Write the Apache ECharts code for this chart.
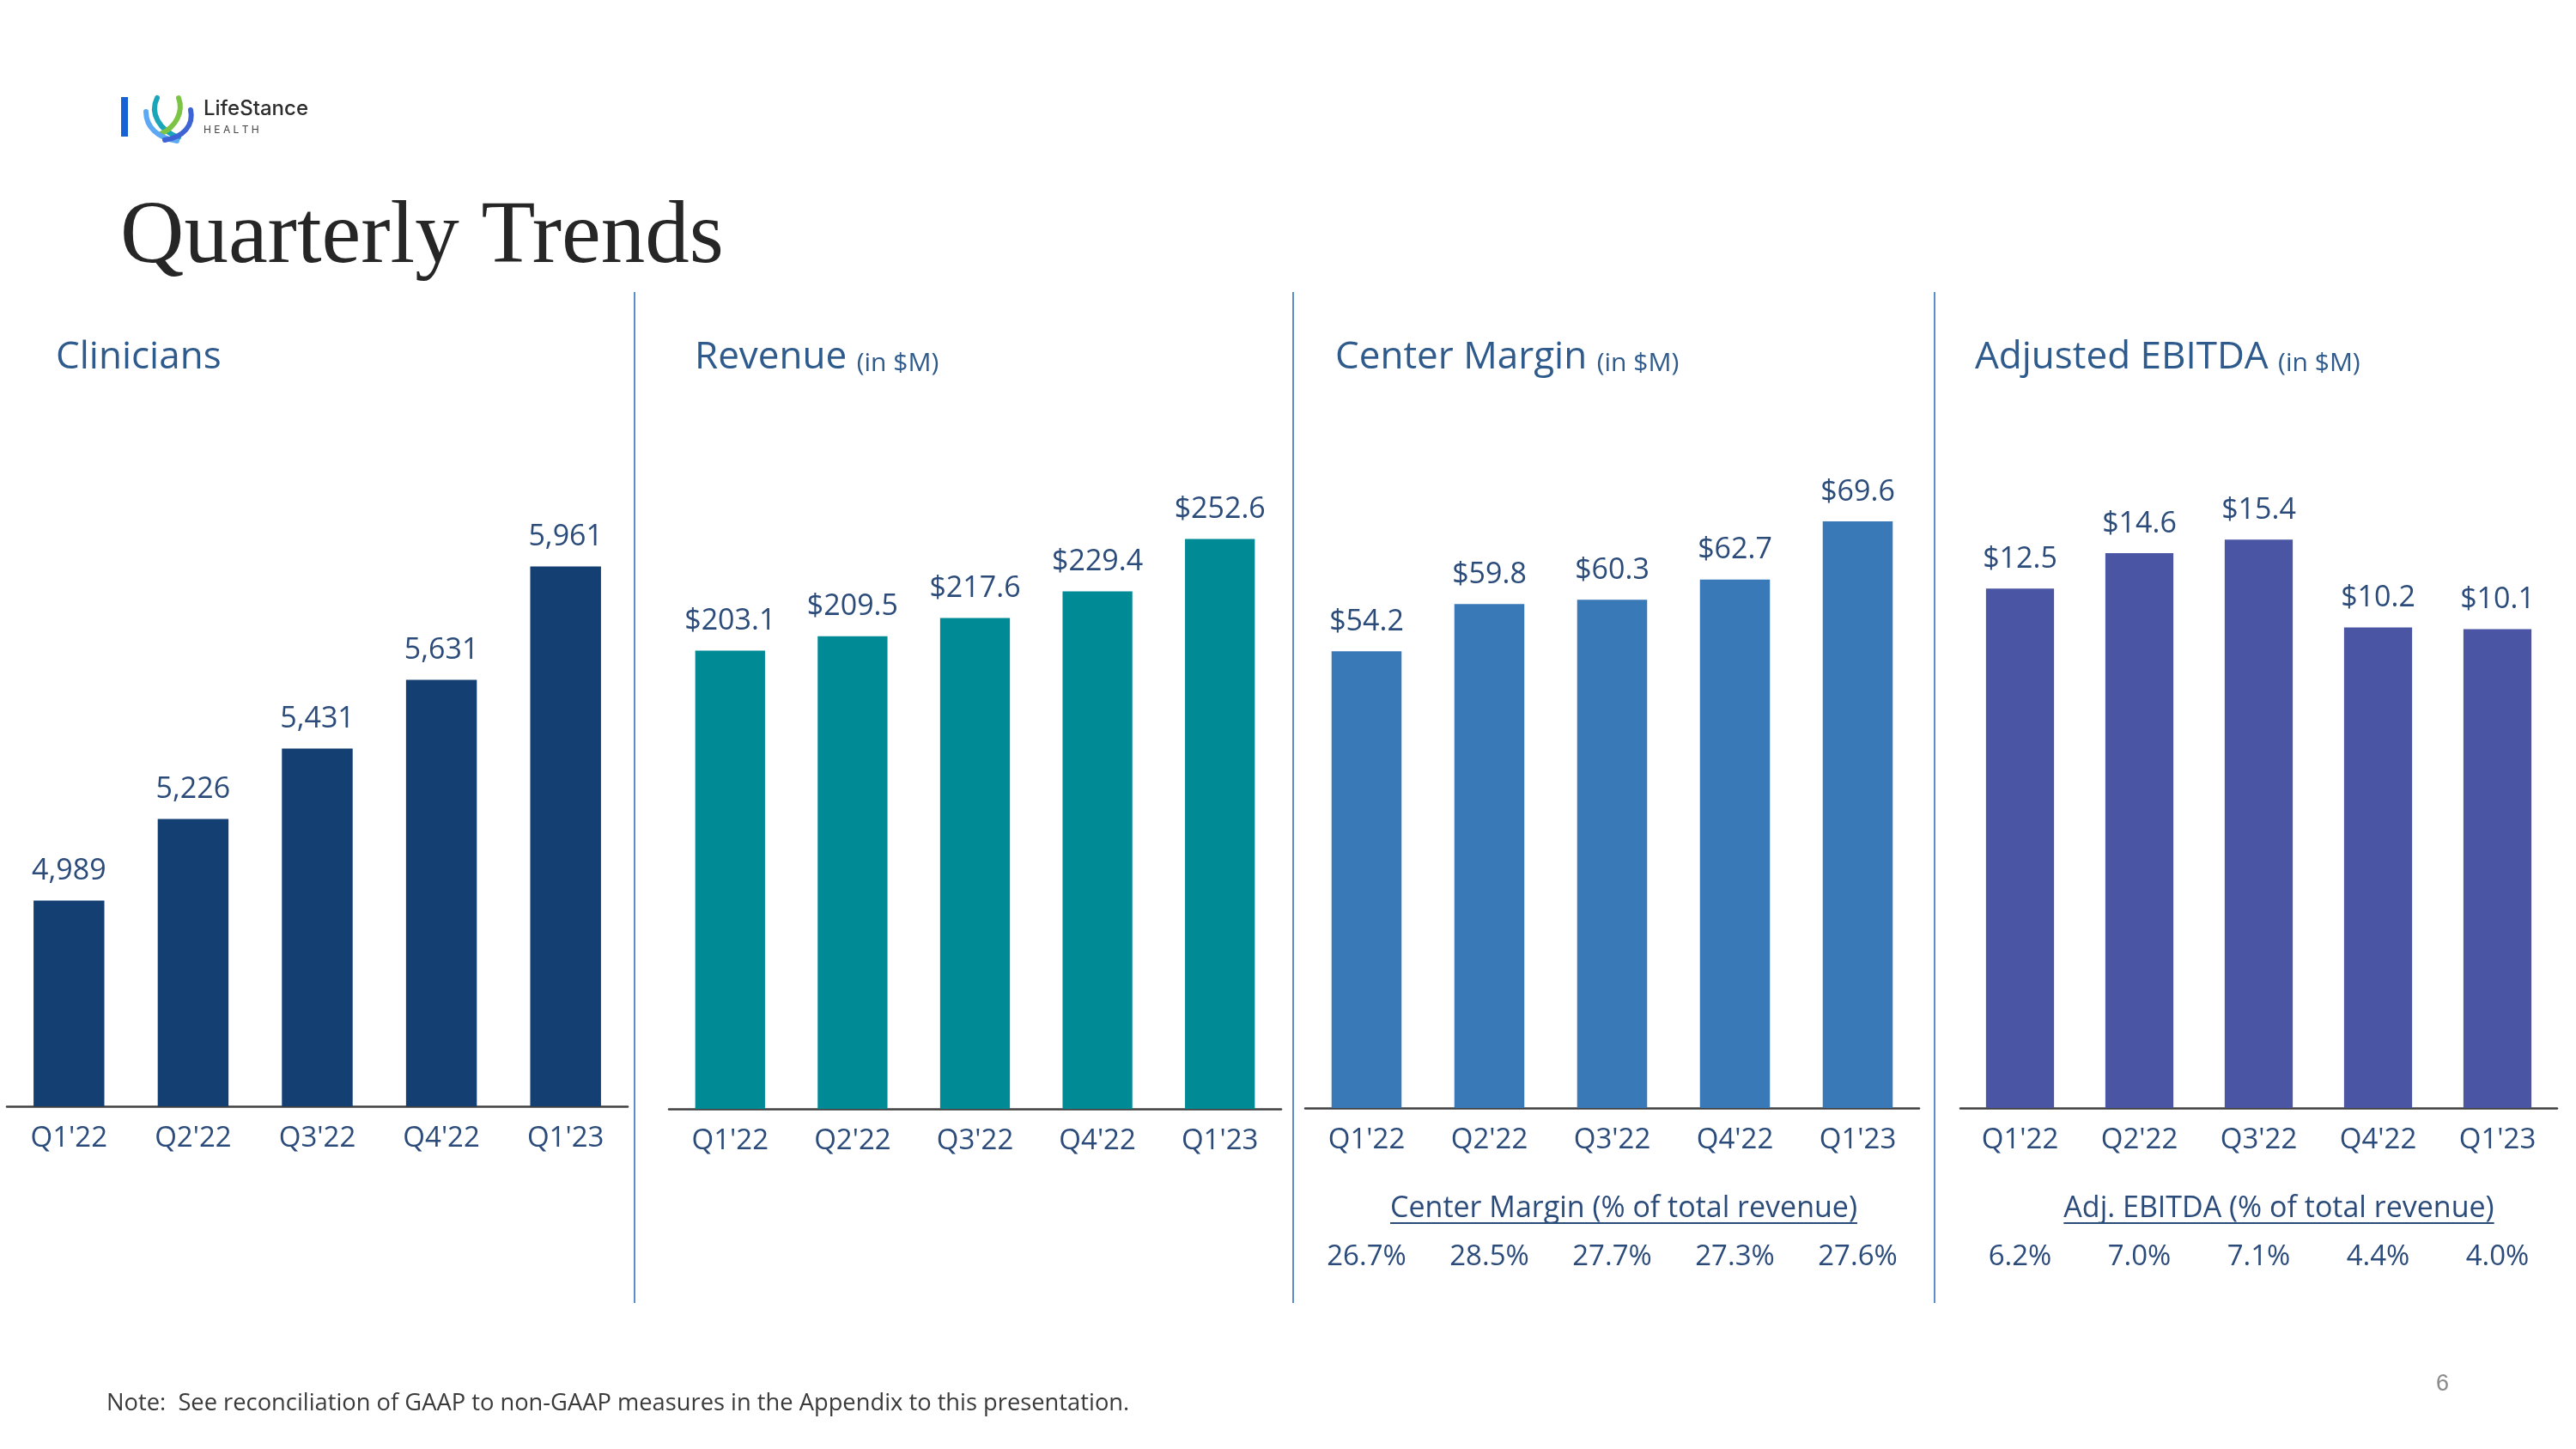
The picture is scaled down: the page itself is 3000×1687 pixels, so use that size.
<!DOCTYPE html>
<html><head><meta charset="utf-8">
<script src="https://cdn.jsdelivr.net/npm/echarts@6/dist/echarts.min.js"></script>
<style>html,body{margin:0;padding:0;background:#fff}#c{width:3000px;height:1687px}</style>
</head><body><div id="c"></div>
<script>
// ---- data ----
const quarters = ["Q1'22", "Q2'22", "Q3'22", "Q4'22", "Q1'23"];
const clinicians = [4989, 5226, 5431, 5631, 5961];
const revenue = [203.1, 209.5, 217.6, 229.4, 252.6];
const centerMargin = [54.2, 59.8, 60.3, 62.7, 69.6];
const adjEbitda = [12.5, 14.6, 15.4, 10.2, 10.1];
const centerMarginPct = [26.7, 28.5, 27.7, 27.3, 27.6];
const adjEbitdaPct = [6.2, 7.0, 7.1, 4.4, 4.0];

// ---- styling ----
const FONT = '"Open Sans", "Noto Sans", sans-serif';
const LABEL_COLOR = '#2B4B7A';
const TITLE_COLOR = '#2E5A8C';
const BAR_COLORS = ['#143F73', '#008A95', '#3A79B8', '#4A55A3'];

const chart = echarts.init(document.getElementById('c'), null, {renderer: 'canvas'});

const grids = [
  {left: 8, top: 324, width: 723, height: 964},
  {left: 779, top: 503, width: 713, height: 788},
  {left: 1520, top: 505, width: 715, height: 785},
  {left: 2283, top: 538, width: 695, height: 752}
];
const yRanges = [
  {min: 4390, max: 6800},
  {min: 0, max: 300},
  {min: 0, max: 80},
  {min: -18.3, max: 20}
];
const seriesData = [clinicians, revenue, centerMargin, adjEbitda];
const fmt = [
  v => v.toLocaleString('en-US'),
  v => '$' + v.toFixed(1),
  v => '$' + v.toFixed(1),
  v => '$' + v.toFixed(1)
];

const xAxes = grids.map((g, i) => ({
  type: 'category', gridIndex: i, data: quarters,
  axisLine: {onZero: false, lineStyle: {color: '#3F3F3F', width: 2.5}},
  axisTick: {show: false},
  axisLabel: {color: LABEL_COLOR, fontSize: 33, fontFamily: FONT, margin: 21, interval: 0}
}));
[[2, centerMarginPct], [3, adjEbitdaPct]].forEach(([gi, arr]) => {
  xAxes.push({
    type: 'category', gridIndex: gi, position: 'bottom', offset: 149,
    data: arr.map(v => v.toFixed(1) + '%'),
    axisLine: {show: false, onZero: false}, axisTick: {show: false},
    axisLabel: {color: LABEL_COLOR, fontSize: 33, fontFamily: FONT, margin: 8, interval: 0}
  });
});

const yAxes = yRanges.map((r, i) => ({
  type: 'value', gridIndex: i, min: r.min, max: r.max, startValue: r.min,
  show: false, splitLine: {show: false}
}));

const series = seriesData.map((d, i) => ({
  type: 'bar', xAxisIndex: i, yAxisIndex: i, data: d, barWidth: '57%',
  itemStyle: {color: BAR_COLORS[i]},
  label: {show: true, position: 'top', distance: 17, fontSize: 34, fontFamily: FONT,
          color: LABEL_COLOR, formatter: p => fmt[i](p.value)},
  animation: false
}));

// measure helper
const mctx = document.createElement('canvas').getContext('2d');
function textW(txt, size) { mctx.font = size + 'px "Open Sans"'; return mctx.measureText(txt).width; }

const graphic = [];
// logo
graphic.push({type: 'rect', shape: {x: 141, y: 113, width: 8, height: 46}, style: {fill: '#1762D4'}});
const logoCurves = [
  {s: [183, 114], c1: [174, 132], c2: [186, 152], e: [208, 160], col: '#1BA5B8'},
  {s: [208, 114], c1: [214, 130], c2: [205, 148], e: [187, 156], col: '#7CC544'},
  {s: [170, 130], c1: [170, 148], c2: [184, 161], e: [206, 164], col: '#5CA8F2'},
  {s: [222, 128], c1: [226, 146], c2: [213, 160], e: [192, 163], col: '#3E63D4'}
];
logoCurves.forEach(c => graphic.push({
  type: 'bezierCurve',
  shape: {x1: c.s[0], y1: c.s[1], cpx1: c.c1[0], cpy1: c.c1[1], cpx2: c.c2[0], cpy2: c.c2[1], x2: c.e[0], y2: c.e[1]},
  style: {stroke: c.col, lineWidth: 6, lineCap: 'round', fill: null}
}));
graphic.push({type: 'text', x: 237, y: 115, style: {text: 'LifeStance', font: '500 24px Inter, "Open Sans", sans-serif', fill: '#2D2D2D'}});
graphic.push({type: 'text', x: 237, y: 145, style: {text: 'H E A L T H', font: '12px Inter, "Open Sans", sans-serif', fill: '#444'}});

// title
graphic.push({type: 'text', x: 140, y: 226, style: {text: 'Quarterly Trends', font: '103px "Liberation Serif", serif', fill: '#262626'}});

// panel titles
const panelTitles = [
  {x: 65, main: 'Clinicians', sub: ''},
  {x: 809, main: 'Revenue ', sub: '(in $M)'},
  {x: 1555, main: 'Center Margin ', sub: '(in $M)'},
  {x: 2300, main: 'Adjusted EBITDA ', sub: '(in $M)'}
];
panelTitles.forEach(p => graphic.push({
  type: 'text', x: p.x, y: 394,
  style: {
    text: '{a|' + p.main + '}' + (p.sub ? '{b|' + p.sub + '}' : ''),
    rich: {
      a: {fontSize: 44, fontFamily: FONT, fill: TITLE_COLOR, color: TITLE_COLOR, lineHeight: 44, verticalAlign: 'bottom'},
      b: {fontSize: 30, fontFamily: FONT, fill: TITLE_COLOR, color: TITLE_COLOR, lineHeight: 36, verticalAlign: 'bottom'}
    }
  }
}));

// dividers
[739, 1506, 2253].forEach(x => graphic.push({
  type: 'line', shape: {x1: x, y1: 340, x2: x, y2: 1517}, style: {stroke: '#5B8DC8', lineWidth: 2}
}));

// sub captions with underline
[
  {cx: 1891, text: 'Center Margin (% of total revenue)'},
  {cx: 2654, text: 'Adj. EBITDA (% of total revenue)'}
].forEach(s => {
  const w = textW(s.text, 34);
  graphic.push({type: 'text', x: s.cx - w / 2, y: 1390, style: {text: s.text, fontSize: 34, fontFamily: FONT, fill: LABEL_COLOR}});
  graphic.push({type: 'line', shape: {x1: s.cx - w / 2, y1: 1424, x2: s.cx + w / 2, y2: 1424}, style: {stroke: LABEL_COLOR, lineWidth: 2}});
});

// note and page number
graphic.push({type: 'text', x: 124, y: 1621, style: {text: 'Note:  See reconciliation of GAAP to non-GAAP measures in the Appendix to this presentation.', fontSize: 27.3, fontFamily: FONT, fill: '#3A3A3A'}});
graphic.push({type: 'text', x: 2837, y: 1598, style: {text: '6', fontSize: 27, fontFamily: '"Liberation Sans", Arial, sans-serif', fill: '#8A8A8A'}});

chart.setOption({
  backgroundColor: '#FFFFFF',
  animation: false,
  grid: grids,
  xAxis: xAxes,
  yAxis: yAxes,
  series: series,
  graphic: graphic
});
</script>
</body></html>
